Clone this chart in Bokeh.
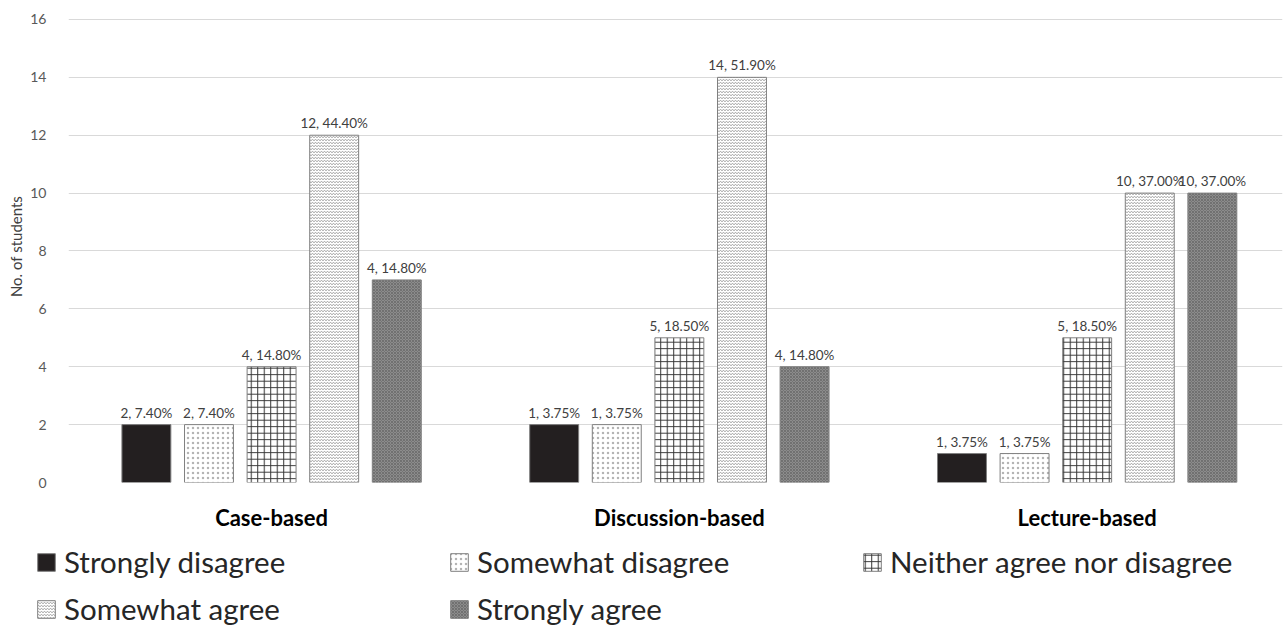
from bokeh.plotting import figure
from bokeh.layouts import column
from bokeh.models import Range1d, FixedTicker, Legend, LegendItem, ColumnDataSource
from bokeh.embed import file_html
from bokeh.resources import INLINE

categories = ["Case-based", "Discussion-based", "Lecture-based"]
series = ["Strongly disagree", "Somewhat disagree", "Neither agree nor disagree",
          "Somewhat agree", "Strongly agree"]
values = {
    "Strongly disagree": [2, 2, 1],
    "Somewhat disagree": [2, 2, 1],
    "Neither agree nor disagree": [4, 5, 5],
    "Somewhat agree": [12, 14, 10],
    "Strongly agree": [7, 4, 10],
}
labels = {
    "Strongly disagree": ["2, 7.40%", "1, 3.75%", "1, 3.75%"],
    "Somewhat disagree": ["2, 7.40%", "1, 3.75%", "1, 3.75%"],
    "Neither agree nor disagree": ["4, 14.80%", "5, 18.50%", "5, 18.50%"],
    "Somewhat agree": ["12, 44.40%", "14, 51.90%", "10, 37.00%"],
    "Strongly agree": ["4, 14.80%", "4, 14.80%", "10, 37.00%"],
}
y_ticks = [0, 2, 4, 6, 8, 10, 12, 14, 16]

styles = {
    "Strongly disagree": dict(fill_color="#231f20"),
    "Somewhat disagree": dict(fill_color="white", hatch_pattern=".", hatch_color="#b4b4b4", hatch_scale=5, hatch_weight=0.5),
    "Neither agree nor disagree": dict(fill_color="white", hatch_pattern="+", hatch_color="#333333", hatch_scale=6.5, hatch_weight=1),
    "Somewhat agree": dict(fill_color="white", hatch_pattern="v", hatch_color="#6f6f6f", hatch_scale=3, hatch_weight=0.7),
    "Strongly agree": dict(fill_color="#8c8c8c", hatch_pattern="x", hatch_color="#6a6a6a", hatch_scale=3, hatch_weight=0.8),
}

FONT = "Lato"
MAIN_H = 534
p = figure(width=1286, height=MAIN_H, output_backend="svg", toolbar_location=None,
           x_range=Range1d(-0.498, 2.479), y_range=Range1d(0, 16.31),
           min_border_left=68, min_border_right=4, min_border_top=10, min_border_bottom=52)
p.outline_line_color = None
p.frame_align = False

bar_w = 0.12
step = 0.1535

def bar_kw(s):
    st = styles[s]
    kw = dict(fill_color=st["fill_color"], line_color="#7f7f7f", line_width=1)
    if "hatch_pattern" in st:
        kw.update(hatch_pattern=st["hatch_pattern"], hatch_color=st["hatch_color"],
                  hatch_scale=st["hatch_scale"], hatch_weight=st["hatch_weight"])
    return kw

for j, s in enumerate(series):
    xs = [i + (j - 2) * step for i in range(len(categories))]
    src = ColumnDataSource(dict(x=xs, top=values[s], lab=labels[s]))
    p.vbar(x="x", top="top", width=bar_w, bottom=0, source=src, **bar_kw(s))
    p.text(x="x", y="top", text="lab", source=src, text_align="center",
           text_baseline="bottom", y_offset=-4, text_font_size="13.5px",
           text_color="#404040", text_font={"value": FONT})

p.xgrid.visible = False
p.ygrid.grid_line_color = "#d9d9d9"
p.ygrid.grid_line_width = 1
p.ygrid.ticker = FixedTicker(ticks=y_ticks)

p.yaxis.ticker = FixedTicker(ticks=y_ticks)
p.yaxis.axis_line_color = None
p.yaxis.major_tick_line_color = None
p.yaxis.minor_tick_line_color = None
p.yaxis.major_label_text_font = FONT
p.yaxis.major_label_text_font_size = "14px"
p.yaxis.major_label_text_color = "#595959"
p.yaxis.major_label_standoff = 16
p.yaxis.axis_label = "No. of students"
p.yaxis.axis_label_text_font = FONT
p.yaxis.axis_label_text_font_size = "15px"
p.yaxis.axis_label_text_font_style = "normal"
p.yaxis.axis_label_text_color = "#404040"
p.yaxis.axis_label_standoff = 2

p.xaxis.ticker = FixedTicker(ticks=[0, 1, 2])
p.xaxis.major_label_overrides = {i: c for i, c in enumerate(categories)}
p.xaxis.axis_line_color = None
p.xaxis.major_tick_line_color = None
p.xaxis.minor_tick_line_color = None
p.xaxis.major_label_text_font = FONT
p.xaxis.major_label_text_font_size = "22px"
p.xaxis.major_label_text_font_style = "bold"
p.xaxis.major_label_text_color = "#000000"
p.xaxis.major_label_standoff = 15

# legend panel
lg = figure(width=1286, height=626 - MAIN_H, output_backend="svg", toolbar_location=None,
            x_range=Range1d(0, 1), y_range=Range1d(0, 1),
            x_axis_location=None, y_axis_location=None,
            min_border=0, min_border_left=0, min_border_right=0,
            min_border_top=0, min_border_bottom=0)
lg.frame_align = False
lg.grid.visible = False
lg.outline_line_color = None
items = []
for s in series:
    r = lg.vbar(x=[5], top=[0], bottom=0, width=0.1, **bar_kw(s))
    items.append(LegendItem(label=s, renderers=[r]))
legend = Legend(items=items, orientation="horizontal", ncols=3,
                location=(35, 0), padding=0, margin=0, spacing=12,
                glyph_width=22, glyph_height=22, label_standoff=7,
                label_width=372, label_height=22,
                label_text_font=FONT, label_text_font_size="29.5px",
                label_text_color="#262626",
                border_line_color=None, background_fill_alpha=0)
lg.add_layout(legend, "center")

open("out.html", "w").write(file_html(column(p, lg, spacing=0), INLINE))
